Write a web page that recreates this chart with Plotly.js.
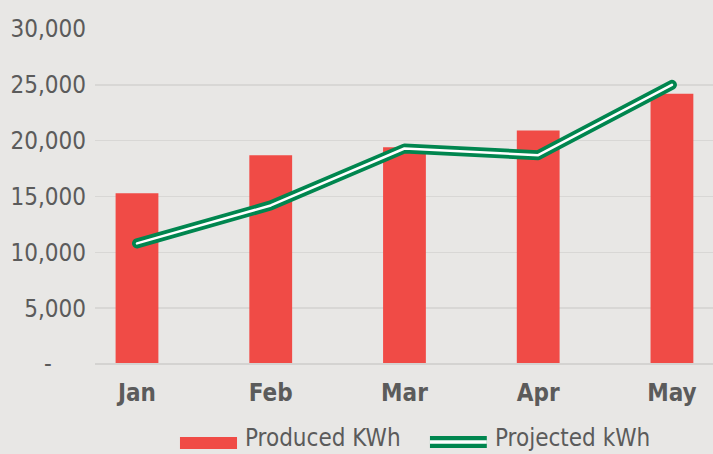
<!DOCTYPE html>
<html>
<head>
<meta charset="utf-8">
<script src="https://cdn.plot.ly/plotly-3.0.1.min.js"></script>
<style>
html,body{margin:0;padding:0;background:#e8e7e5;}
#chart{width:713px;height:454px;}
.scatterlayer path.js-line{stroke-linecap:round !important;stroke-linejoin:round !important;}
</style>
</head>
<body>
<div id="chart"></div>
<script>
const months = ["Jan", "Feb", "Mar", "Apr", "May"];
const producedKWh = [15300, 18700, 19400, 20900, 24200];
const projectedKWh = [10800, 14200, 19300, 18700, 25000];
const yTickVals = [0, 5000, 10000, 15000, 20000, 25000, 30000];
const yTickText = ["-\u00a0\u00a0\u00a0\u00a0\u00a0", "5,000", "10,000", "15,000", "20,000", "25,000", "30,000"];
const seriesNames = ["Produced KWh", "Projected kWh"];

const FONT = '"Liberation Sans Narrow", "DejaVu Sans Condensed", "Liberation Sans", sans-serif';
const RED = "#f04b46";
const GREEN = "#00864f";
const GRAY = "#5b5b5b";

const xIdx = months.map((m, i) => i);

const traces = [
  {type: "bar", x: xIdx, y: producedKWh, name: seriesNames[0], marker: {color: RED}, width: 0.32, showlegend: false, hoverinfo: "skip"},
  {type: "scatter", mode: "lines", x: xIdx, y: projectedKWh, name: seriesNames[1], line: {color: GREEN, width: 10}, showlegend: false, hoverinfo: "skip"},
  {type: "scatter", mode: "lines", x: xIdx, y: projectedKWh, name: seriesNames[1] + " inner", line: {color: "#ffffff", width: 2.5}, showlegend: false, hoverinfo: "skip"}
];

const layout = {
  width: 713, height: 454,
  paper_bgcolor: "#e8e7e5", plot_bgcolor: "#e8e7e5",
  margin: {l: 95, r: 0, t: 29, b: 90},
  font: {family: FONT, color: GRAY, size: 24},
  showlegend: false,
  xaxis: {
    range: [-0.314, 4.307], tickvals: xIdx, ticktext: months,
    tickfont: {family: FONT, size: 24, color: GRAY, weight: "bold"},
    showgrid: false, zeroline: false, showline: false, ticks: "", ticklabelstandoff: 12, fixedrange: true
  },
  yaxis: {
    range: [0, 30000], tickvals: yTickVals, ticktext: yTickText,
    tickfont: {family: FONT, size: 24, color: GRAY},
    showgrid: true, gridcolor: "#d8d7d5", gridwidth: 1.5, zeroline: false, showline: false,
    ticks: "", ticklabelstandoff: 8, fixedrange: true
  },
  shapes: [
    {type: "line", xref: "paper", yref: "paper", x0: 0, x1: 1, y0: 0, y1: 0, line: {color: "#d4d3d1", width: 2}},
    {type: "rect", xref: "paper", yref: "paper", x0: 0.1375, x1: 0.2298, y0: -0.2537, y1: -0.2179, fillcolor: RED, line: {width: 0}},
    {type: "line", xref: "paper", yref: "paper", x0: 0.542, x1: 0.634, y0: -0.2328, y1: -0.2328, line: {color: GREEN, width: 12}},
    {type: "line", xref: "paper", yref: "paper", x0: 0.542, x1: 0.634, y0: -0.2328, y1: -0.2328, line: {color: "#ffffff", width: 3.5}}
  ],
  annotations: [
    {xref: "paper", yref: "paper", x: 0.2395, y: -0.222, xanchor: "left", yanchor: "middle", text: seriesNames[0], showarrow: false, font: {family: FONT, size: 24, color: GRAY}},
    {xref: "paper", yref: "paper", x: 0.644, y: -0.222, xanchor: "left", yanchor: "middle", text: seriesNames[1], showarrow: false, font: {family: FONT, size: 24, color: GRAY}}
  ]
};

Plotly.newPlot("chart", traces, layout, {displayModeBar: false, staticPlot: true});
</script>
</body>
</html>
